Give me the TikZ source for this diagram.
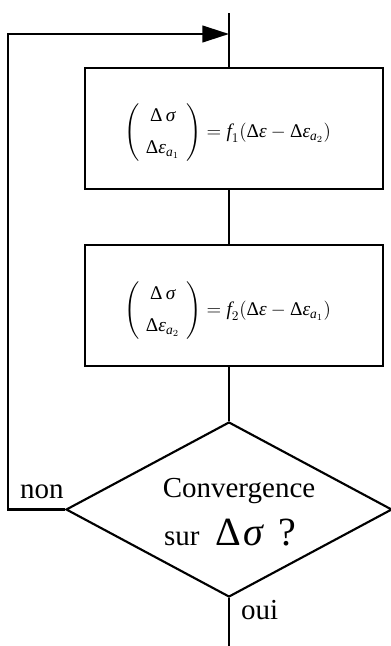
\documentclass[tikz,border=0pt]{standalone}
\usepackage{amsmath}
\usepackage{fontspec}
\setmainfont{Liberation Serif}
\usetikzlibrary{arrows.meta,shapes.geometric}
\newcommand{\gD}{\text{Δ}}
\newcommand{\gs}{\text{\itshape σ}}
\newcommand{\epsv}{\text{\itshape ε}}
\newcommand{\ita}{\text{\itshape a}}
\begin{document}
\begin{tikzpicture}[x=0.75pt,y=-0.75pt, line width=1.6pt,
  box/.style={draw, rectangle, minimum width=223.5pt, minimum height=90.75pt, inner sep=0},
  lbl/.style={font=\fontsize{21.75}{24}\selectfont, inner sep=0},
  eq/.style={font=\fontsize{14.5}{17}\selectfont, inner sep=0},
  link/.style={draw, line width=1.6pt}]
\useasboundingbox (0,0) rectangle (390,646);
\coordinate (top) at (229,13);
\coordinate (bot) at (229,646);
\coordinate (L) at (8,34);
\coordinate (J) at (229,34);
\node[box] (box1) at (234,128.5) {};
\node[box] (box2) at (234,305.5) {};
\node[eq] (eq1) at (227.5,133) {$\left(\begin{array}{c}\gD\,\gs\\[7pt]\gD\epsv_{\ita_{1}}\end{array}\right)= \text{\itshape f}_{1}(\gD\epsv - \gD\epsv_{\ita_{2}})$};
\node[eq] (eq2) at (227.5,311) {$\left(\begin{array}{c}\gD\,\gs\\[7pt]\gD\epsv_{\ita_{2}}\end{array}\right)= \text{\itshape f}_{2}(\gD\epsv - \gD\epsv_{\ita_{1}})$};
\node[draw, diamond, minimum width=244.5pt, minimum height=131.25pt, inner sep=0] (dec) at (229,509.5) {};
\node[lbl, anchor=base] (t1) at (239,497) {Convergence};
\node[lbl, anchor=base west] (t2) at (163,545) {sur\hspace{12pt}{\fontsize{30}{30}\selectfont Δ\kern2pt\textit{σ}\hspace{10pt}?}};
\node[lbl, anchor=base west] (non) at (19,498) {non};
\node[lbl, anchor=base west] (oui) at (240,619) {oui};
\draw[link] (top) -- (top |- box1.north);
\draw[link] (box1.south -| top) -- (box2.north -| top);
\draw[link] (box2.south -| top) -- (dec.north);
\draw[link] (dec.south) -- (bot);
\draw[link, -{Triangle[length=20pt,width=12.5pt]}] (dec.west) -| (L) -- (J);
\end{tikzpicture}
\end{document}
